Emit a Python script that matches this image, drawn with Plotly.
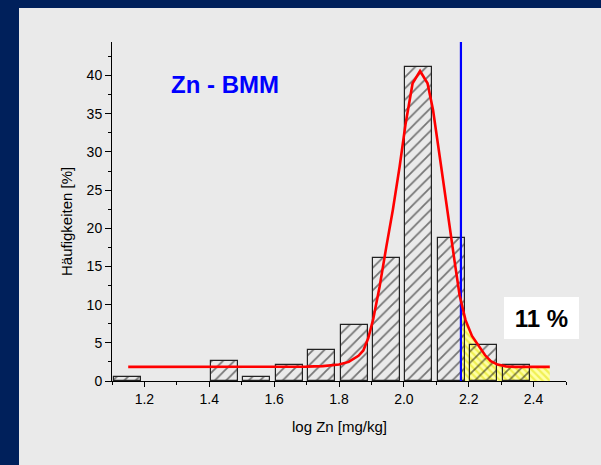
import numpy as np
import plotly.graph_objects as go

# Histogram of log-transformed Zn contents (class width 0.1)
bin_left = [1.1, 1.2, 1.3, 1.4, 1.5, 1.6, 1.7, 1.8, 1.9, 2.0, 2.1, 2.2, 2.3]
freq_pct = [0.5, 0.0, 0.0, 2.6, 0.5, 2.1, 4.1, 7.3, 16.1, 41.1, 18.7, 4.7, 2.1]

# Fitted distribution curve
curve_x = [1.15, 1.50, 1.70, 1.75, 1.80, 1.83, 1.86, 1.875, 1.89, 1.905, 1.925,
           1.946, 1.966, 1.987, 2.005, 2.027, 2.050, 2.073, 2.090, 2.115, 2.135,
           2.156, 2.172, 2.190, 2.210, 2.233, 2.250, 2.268, 2.289, 2.315, 2.340, 2.45]
curve_y = [1.85, 1.85, 1.88, 1.95, 2.15, 2.5, 3.3, 4.0, 5.6, 8.0, 12.3,
           17.6, 22.4, 28.1, 33.6, 39.0, 40.6, 39.0, 35.5, 28.1, 22.4,
           15.8, 11.2, 8.0, 5.9, 4.4, 3.4, 2.6, 2.15, 1.92, 1.85, 1.85]

# Threshold (log10 of 150 mg/kg) and share of samples above it
threshold = 2.176
share_label = "11 %"
title_label = "Zn - BMM"

x_ticks = [1.2, 1.4, 1.6, 1.8, 2.0, 2.2, 2.4]
y_ticks = [0, 5, 10, 15, 20, 25, 30, 35, 40]

X_RANGE = [1.1, 2.5]
Y_RANGE = [0, 44.4]
FONT = "Liberation Sans, Arial, sans-serif"
NAVY = "#00205B"
PANEL = "#EAEAEA"

cx = np.array(curve_x)
cy = np.array(curve_y)
mask = cx > threshold
fill_x = np.concatenate([[threshold], cx[mask]])
fill_y = np.concatenate([[np.interp(threshold, cx, cy)], cy[mask]])

fig = go.Figure()

# Tail area above the threshold (on the base axes, underneath the bars)
fig.add_trace(go.Scatter(
    x=fill_x, y=fill_y, mode="lines", line=dict(width=0, color="rgba(0,0,0,0)"),
    fill="tozeroy", fillcolor="#FFFF99",
    fillpattern=dict(shape="\\", fgcolor="#E2E200", bgcolor="#FFFFA6",
                     size=5, solidity=0.45),
    hoverinfo="skip", showlegend=False, xaxis="x", yaxis="y"))

# Hatched histogram bars on an overlaying axis so they sit above the tail area
fig.add_trace(go.Bar(
    x=bin_left, y=[v if v > 0 else None for v in freq_pct],
    offset=0.005, width=0.083,
    marker=dict(color="rgba(0,0,0,0)",
                line=dict(color="#222222", width=1.2),
                pattern=dict(shape="/", fgcolor="#000000", bgcolor="rgba(0,0,0,0)",
                             size=8, solidity=0.22)),
    showlegend=False, xaxis="x", yaxis="y2"))

# Threshold line
fig.add_trace(go.Scatter(
    x=[threshold, threshold], y=Y_RANGE, mode="lines",
    line=dict(color="#0000FF", width=2.2), showlegend=False,
    xaxis="x", yaxis="y2"))

# Fitted curve
fig.add_trace(go.Scatter(
    x=curve_x, y=curve_y, mode="lines",
    line=dict(color="#FF0000", width=2.6), showlegend=False,
    xaxis="x", yaxis="y2"))

axis_common = dict(showgrid=False, zeroline=False, showline=True,
                   linecolor="black", linewidth=1, ticks="outside",
                   tickcolor="black", tickwidth=1,
                   tickfont=dict(family=FONT, size=14, color="black"))

fig.update_layout(
    width=601, height=465,
    margin=dict(l=112, r=35, t=42, b=84),
    paper_bgcolor=PANEL, plot_bgcolor=PANEL,
    bargap=0,
    xaxis=dict(range=X_RANGE, tickvals=x_ticks, ticklen=5,
               ticktext=[f"{v:.1f}" for v in x_ticks],
               minor=dict(dtick=0.1, tick0=1.1, ticklen=3, ticks="outside",
                          tickcolor="black"),
               **axis_common),
    yaxis=dict(range=Y_RANGE, tickvals=y_ticks, ticklen=6,
               minor=dict(dtick=2.5, tick0=0, ticklen=3, ticks="outside",
                          tickcolor="black"),
               **axis_common),
    yaxis2=dict(range=Y_RANGE, overlaying="y", visible=False),
    shapes=[
        dict(type="rect", xref="paper", yref="paper", layer="below",
             x0=-0.5, x1=(19 - 112) / 454, y0=-0.5, y1=1.5,
             fillcolor=NAVY, line=dict(width=0)),
        dict(type="rect", xref="paper", yref="paper", layer="below",
             x0=-0.5, x1=1.5, y0=(381 - 8) / 339, y1=1.5,
             fillcolor=NAVY, line=dict(width=0)),
    ],
    annotations=[
        dict(text=f"<b>{title_label}</b>", x=1.448, y=38.8, xref="x", yref="y",
             showarrow=False, font=dict(family=FONT, size=24, color="#0000FF"),
             xanchor="center", yanchor="middle"),
        dict(text=f"<b>{share_label}</b>", x=2.423, y=8.2, xref="x", yref="y",
             showarrow=False, font=dict(family=FONT, size=24, color="black"),
             bgcolor="white", borderpad=0, borderwidth=0, width=75, height=42,
             xanchor="center", yanchor="middle"),
        dict(text="log Zn [mg/kg]", x=0.5, y=-(427 - 381) / 339,
             xref="paper", yref="paper", showarrow=False,
             font=dict(family=FONT, size=15, color="black"),
             xanchor="center", yanchor="middle"),
        dict(text="Häufigkeiten [%]", x=(67 - 112) / 454, y=(381 - 222) / 339,
             xref="paper", yref="paper", showarrow=False, textangle=-90,
             font=dict(family=FONT, size=15, color="black"),
             xanchor="center", yanchor="middle"),
    ],
)

fig.write_html("out.html")
